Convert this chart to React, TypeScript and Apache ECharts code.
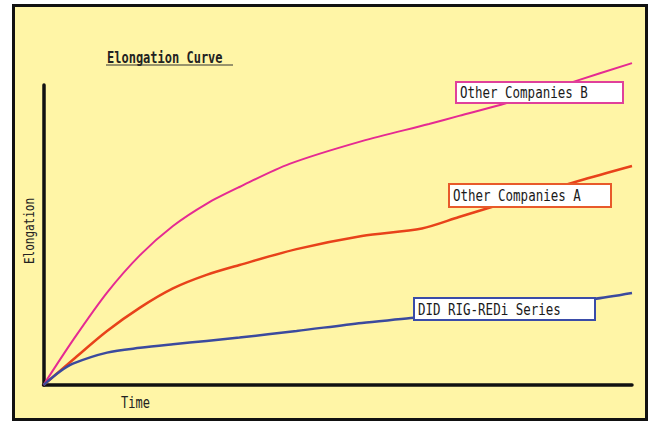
import React, { useEffect, useRef } from "react";
import * as echarts from "echarts";

// Data (arbitrary units: time 0-100, elongation 0-100 at axis top)
const otherBTime = [0, 5.1, 10.8, 16.4, 22.0, 27.7, 33.3, 41.8, 54.1, 65.5, 70.6, 78.7, 90.4, 100];
const otherBElong = [0, 15.2, 30.8, 43.3, 53.0, 60.4, 66.0, 73.7, 81.3, 87.0, 89.7, 94.0, 101.3, 107.3];

const otherATime = [0, 5.1, 10.8, 16.4, 22.0, 27.7, 33.3, 43.0, 54.1, 64.3, 70.6, 75.6, 90.9, 100];
const otherAElong = [0, 8.6, 18.0, 25.8, 32.2, 36.7, 40.0, 45.3, 49.7, 52.2, 56.0, 59.0, 68.0, 73.0];

const didTime = [0, 2.8, 5.1, 10.8, 16.4, 22.0, 27.7, 33.3, 43.0, 54.1, 62.4, 77.3, 93.4, 100];
const didElong = [0, 4.5, 7.2, 10.8, 12.4, 13.6, 14.7, 15.8, 18.0, 20.7, 22.3, 25.7, 28.7, 30.7];

const seriesNames = ["Other Companies B", "Other Companies A", "DID RIG-REDi Series"];
const titleText = "Elongation Curve";
const xAxisName = "Time";
const yAxisName = "Elongation";

const FONT = "DejaVu Sans Mono";

function pairs(xs: number[], ys: number[]) {
  return xs.map((x, i) => [x, ys[i]]);
}

function labelBox(x: number, y: number, w: number, h: number, color: string, text: string) {
  return [
    {
      type: "rect",
      z: 100,
      shape: { x, y, width: w, height: h },
      style: { fill: "#ffffff", stroke: color, lineWidth: 2 },
    },
    {
      type: "text",
      z: 101,
      x: x + 4,
      y: y + h / 2,
      scaleY: 1.25,
      style: {
        text,
        font: `12.5px '${FONT}'`,
        fill: "#1a1a1a",
        verticalAlign: "middle",
      },
    },
  ];
}

export default function App() {
  const ref = useRef<HTMLDivElement>(null);

  useEffect(() => {
    if (!ref.current) return;
    const chart = echarts.init(ref.current, undefined, { renderer: "svg" });
    const pink = "#E52A92";
    const red = "#E8421A";
    const blue = "#3B4A9E";
    chart.setOption({
      animation: false,
      backgroundColor: "#ffffff",
      grid: { left: 43.5, right: 21, top: 85, bottom: 36 },
      xAxis: {
        type: "value",
        min: 0,
        max: 100,
        axisLine: { show: true, lineStyle: { color: "#111111", width: 3.5 } },
        axisTick: { show: false },
        axisLabel: { show: false },
        splitLine: { show: false },
      },
      yAxis: {
        type: "value",
        min: 0,
        max: 100,
        axisLine: { show: true, lineStyle: { color: "#111111", width: 3.5 } },
        axisTick: { show: false },
        axisLabel: { show: false },
        splitLine: { show: false },
      },
      graphic: [
        {
          type: "rect",
          z: -10,
          shape: { x: 13.5, y: 5.5, width: 633, height: 414 },
          style: { fill: "#FFF5A6", stroke: "#111111", lineWidth: 3 },
        },
        {
          type: "text",
          x: 107,
          y: 57,
          scaleY: 1.25,
          style: {
            text: titleText,
            font: `bold 12px '${FONT}'`,
            fill: "#222222",
            verticalAlign: "middle",
          },
        },
        {
          type: "line",
          shape: { x1: 106, y1: 65, x2: 233, y2: 65 },
          style: { stroke: "#333333", lineWidth: 1 },
        },
        {
          type: "text",
          x: 121,
          y: 402,
          scaleY: 1.25,
          style: {
            text: xAxisName,
            font: `12px '${FONT}'`,
            fill: "#222222",
            verticalAlign: "middle",
          },
        },
        {
          type: "text",
          x: 30,
          y: 231,
          rotation: Math.PI / 2,
          scaleY: 1.2,
          style: {
            text: yAxisName,
            font: `11px '${FONT}'`,
            fill: "#222222",
            align: "center",
            verticalAlign: "middle",
          },
        },
        ...labelBox(456, 82, 167, 21, "#E0409A", seriesNames[0]),
        ...labelBox(449, 184, 162, 23, "#E85A2A", seriesNames[1]),
        ...labelBox(414, 298, 181, 22, "#3A4CA8", seriesNames[2]),
      ],
      series: [
        {
          name: seriesNames[0],
          type: "line",
          data: pairs(otherBTime, otherBElong),
          smooth: 0.3,
          showSymbol: false,
          clip: false,
          lineStyle: { color: pink, width: 2 },
        },
        {
          name: seriesNames[1],
          type: "line",
          data: pairs(otherATime, otherAElong),
          smooth: 0.3,
          showSymbol: false,
          clip: false,
          lineStyle: { color: red, width: 2.5 },
        },
        {
          name: seriesNames[2],
          type: "line",
          data: pairs(didTime, didElong),
          smooth: 0.3,
          showSymbol: false,
          clip: false,
          lineStyle: { color: blue, width: 2.5 },
        },
      ],
    });
    return () => chart.dispose();
  }, []);

  return (
    <div
      ref={ref}
      style={{ position: "fixed", left: 0, top: 0, width: 653, height: 421 }}
    />
  );
}
